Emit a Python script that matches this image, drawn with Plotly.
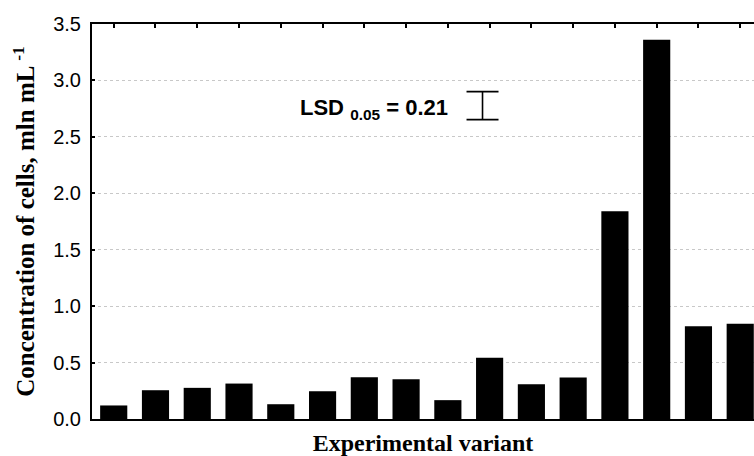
import plotly.graph_objects as go

# Data
variants = [1, 2, 3, 4, 5, 6, 7, 8, 9, 10, 11, 12, 13, 14, 15, 16]
concentration = [0.12, 0.255, 0.276, 0.314, 0.131, 0.246, 0.37, 0.353,
                 0.167, 0.542, 0.308, 0.368, 1.84, 3.36, 0.822, 0.843]
lsd_value = 0.21
y_ticks = [0.0, 0.5, 1.0, 1.5, 2.0, 2.5, 3.0, 3.5]

fig = go.Figure()
fig.add_trace(go.Bar(
    x=variants, y=concentration, width=0.65,
    marker=dict(color="black", line=dict(width=0)),
    showlegend=False, hoverinfo="skip",
))

# LSD error-bar glyph
fig.add_trace(go.Scatter(
    x=[9.83], y=[2.777], mode="markers",
    marker=dict(size=1, color="rgba(0,0,0,0)"),
    error_y=dict(type="data", array=[0.124], symmetric=True,
                 color="black", thickness=1.6, width=16),
    showlegend=False, hoverinfo="skip",
))

fig.add_annotation(
    x=9.045, y=2.75, xref="x", yref="y", xanchor="right", yanchor="middle",
    text=f"LSD <sub>0.05</sub> = {lsd_value:.2f}", showarrow=False,
    font=dict(family="Arial, Liberation Sans", size=22, color="black", weight="bold"),
)

fig.update_layout(
    width=754, height=456,
    margin=dict(l=92, r=0, t=24, b=37),
    plot_bgcolor="white", paper_bgcolor="white",
)

fig.update_xaxes(
    range=[0.48, 16.33],
    showticklabels=False,
    ticks="inside", ticklen=4, tickwidth=1.5, tickcolor="black",
    tickvals=variants,
    showline=True, linecolor="black", linewidth=2, mirror="ticks",
    showgrid=False, zeroline=False,
    title=dict(text="<b>Experimental variant</b>", standoff=14,
               font=dict(family="Times New Roman, Liberation Serif", size=24, color="black")),
)

fig.update_yaxes(
    range=[0, 3.5],
    tickvals=y_ticks, tickformat=".1f",
    ticks="inside", ticklen=3, tickwidth=1.5, tickcolor="black",
    ticklabelstandoff=5,
    tickfont=dict(family="Arial, Liberation Sans", size=20, color="black"),
    showline=True, linecolor="black", linewidth=2, mirror=False,
    showgrid=True, gridcolor="#c8c8c8", griddash="dot", gridwidth=1,
    zeroline=False,
    title=dict(text="<b>Concentration of cells, mln mL <sup>-1</sup></b>", standoff=11,
               font=dict(family="Times New Roman, Liberation Serif", size=25, color="black")),
)

fig.write_html(
    "out.html",
    config={"displayModeBar": False},
    post_script="document.body.style.margin='0';document.body.style.overflow='hidden';",
)
